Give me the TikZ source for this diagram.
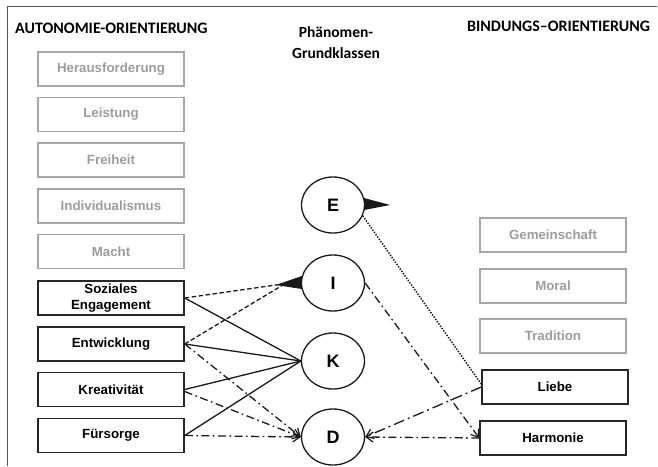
\documentclass[tikz,border=0pt]{standalone}
\usepackage{fontspec}
\setmainfont{Liberation Sans}
\newfontfamily\titlefont{Carlito}
\usetikzlibrary{arrows.meta,shapes.geometric}
\definecolor{boxgray}{HTML}{A6A6A6}
\definecolor{textgray}{HTML}{9C9C9C}
\definecolor{framegray}{HTML}{555555}
\begin{document}
\begin{tikzpicture}[x=1pt,y=-1pt,
 box/.style={draw, line width=1.5pt, minimum width=146pt, minimum height=34pt, inner sep=0pt, align=center, font=\fontsize{13.3}{15.5}\selectfont\bfseries},
 graybox/.style={box, draw=boxgray, text=textgray, line width=1.3pt},
 blackbox/.style={box, draw=black!85},
 circ/.style={draw=black!90, ellipse, line width=1.3pt, minimum width=63pt, minimum height=56pt, inner sep=0pt, font=\fontsize{18}{18}\selectfont\bfseries},
 conn/.style={line width=1.3pt, black!90},
 tipo/.style={-{Straight Barb[length=7pt,width=10pt,line width=1.2pt]}},
 dashedline/.style={conn, dash pattern=on 4.5pt off 2.5pt},
 dashdot/.style={conn, dash pattern=on 8pt off 3.5pt on 1.6pt off 3.5pt},
 longdashdot/.style={conn, dash pattern=on 11pt off 4pt on 2pt off 4pt},
 dotline/.style={line width=1.5pt, black!90, dash pattern=on 1.4pt off 1.4pt},
 title/.style={font=\titlefont\fontsize{16}{20}\selectfont\bfseries, inner sep=0pt}
]
\useasboundingbox (0,0) rectangle (658,466);
\draw[framegray, line width=1pt] (7,466) -- (7,6) -- (657,6);

% titles
\node[title, anchor=west] (tA) at (15,28) {AUTONOMIE-ORIENTIERUNG};
\node[title, align=center, font=\titlefont\fontsize{15.5}{21}\selectfont\bfseries] (tP) at (336,43) {Phänomen-\\Grundklassen};
\node[title, anchor=west] (tB) at (467,26) {BINDUNGS–ORIENTIERUNG};

% left boxes
\node[graybox] (her) at (111,69) {Herausforderung};
\node[graybox] (lei) at (111,114.5) {Leistung};
\node[graybox] (fre) at (111,160) {Freiheit};
\node[graybox] (ind) at (111,206) {Individualismus};
\node[graybox] (mac) at (111,251.5) {Macht};
\node[blackbox] (soz) at (111,298) {Soziales\\Engagement};
\node[blackbox] (ent) at (111,344) {Entwicklung};
\node[blackbox] (kre) at (111,389.5) {Kreativität};
\node[blackbox] (fue) at (111,435.5) {Fürsorge};

% right boxes
\node[graybox] (gem) at (553,235) {Gemeinschaft};
\node[graybox] (mor) at (553,286) {Moral};
\node[graybox] (tra) at (553,336) {Tradition};
\node[blackbox] (lie) at (555,387) {Liebe};
\node[blackbox] (har) at (553,438) {Harmonie};

% circles
\node[circ] (E) at (333,205) {E};
\node[circ] (I) at (333,283) {I};
\node[circ] (K) at (333,361) {K};
\node[circ] (D) at (333,437) {D};

% solid to K
\draw[conn] (soz.east) -- (K.west);
\draw[conn] (ent.east) -- (K.west);
\draw[conn] (kre.east) -- (K.west);
\draw[conn] (fue.east) -- (K.west);

% dashed to I
\draw[dashedline] (soz.east) -- ([xshift=-18pt,yshift=-1pt]I.west);
\draw[dashedline] (ent.east) -- ([xshift=-18pt,yshift=-2pt]I.west);
\fill[black!90] ([xshift=1pt,yshift=7pt]I.west) -- ([xshift=-25pt,yshift=-2pt]I.west) -- ([xshift=1pt,yshift=-6pt]I.west) -- cycle;

% dash-dot to D
\draw[dashdot, tipo] (ent.east) -- (D.west);
\draw[dashdot, tipo] ([yshift=-2pt]kre.east) -- (D.west);
\draw[dashdot, tipo] (fue.east) -- (D.west);

% right side
\draw[dotline] (E.-20) -- ([yshift=3pt]lie.west);
\fill[black!90] ([xshift=-1pt,yshift=7pt]E.east) -- ([xshift=25pt]E.east) -- ([xshift=-1pt,yshift=-5pt]E.east) -- cycle;
\draw[dashdot, tipo] (I.east) -- (har.west);
\draw[longdashdot, tipo] (lie.west) -- (D.east);
\draw[dashdot, tipo] (har.west) -- (D.east);
\end{tikzpicture}
\end{document}
